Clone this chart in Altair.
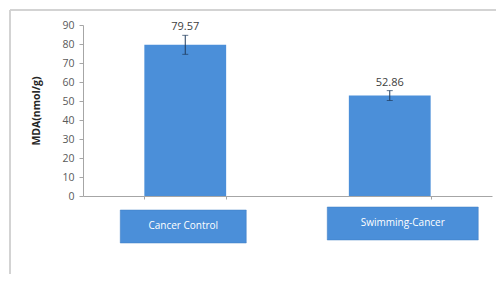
import altair as alt
import pandas as pd

groups = ["Cancer Control", "Swimming-Cancer"]
mda = [79.57, 52.86]
err = [5.0, 2.6]
labels = ["79.57", "52.86"]

df = pd.DataFrame({"group": groups, "mda": mda, "err": err, "label": labels})
df["lo"] = df["mda"] - df["err"]
df["hi"] = df["mda"] + df["err"]

BLUE = "#4b8fd9"
FONT = "Open Sans"

x_axis = alt.Axis(title=None, labels=False, ticks=True, tickBand="extent",
                  tickSize=3, domainColor="#a6a6a6", tickColor="#a6a6a6")
y_axis = alt.Axis(title="MDA(nmol/g)", values=list(range(0, 91, 10)),
                  labelOverlap=False,
                  grid=False, domainColor="#a6a6a6", tickColor="#a6a6a6",
                  tickSize=4, labelFontSize=10.5, labelColor="#595959",
                  labelFont=FONT, labelPadding=5,
                  titleFont=FONT, titleFontSize=10.5, titleFontWeight="bold",
                  titleColor="#262626", titlePadding=20)
y_scale = alt.Scale(domain=[0, 90])
x = alt.X("group:N", sort=groups,
          scale=alt.Scale(paddingInner=0.6, paddingOuter=0.3), axis=x_axis)

base = alt.Chart(df)

bars = base.mark_bar(color=BLUE).encode(
    x=x, y=alt.Y("mda:Q", scale=y_scale, axis=y_axis))
errs = base.mark_errorbar(color="#1f3b5c", ticks=alt.MarkConfig(size=6)).encode(
    x=x, y=alt.Y("lo:Q", scale=y_scale, axis=y_axis), y2="hi:Q")
vals = base.mark_text(dy=-8, fontSize=11, font=FONT, color="#404040").encode(
    x=x, y=alt.Y("hi:Q", scale=y_scale, axis=y_axis), text="label:N")

box1 = base.transform_filter(alt.datum.group == groups[0]).mark_bar(
    color=BLUE, width=126, xOffset=-2, stroke="#3f7cc0", strokeWidth=0.5).encode(
    x=x, y=alt.value(185), y2=alt.value(218))
box2 = base.transform_filter(alt.datum.group == groups[1]).mark_bar(
    color=BLUE, width=151, xOffset=13, stroke="#3f7cc0", strokeWidth=0.5).encode(
    x=x, y=alt.value(182), y2=alt.value(215))
boxtext1 = base.transform_filter(alt.datum.group == groups[0]).mark_text(
    color="white", fontSize=10, font=FONT, xOffset=-2).encode(
    x=x, y=alt.value(201), text="group:N")
boxtext2 = base.transform_filter(alt.datum.group == groups[1]).mark_text(
    color="white", fontSize=10, font=FONT, xOffset=13).encode(
    x=x, y=alt.value(198), text="group:N")

top_border = base.mark_rule(color="#d0d0d0", strokeWidth=1.5).encode(
    x=alt.value(-73), x2=alt.value(425), y=alt.value(-15))
left_border = base.mark_rule(color="#d0d0d0", strokeWidth=1.5).encode(
    x=alt.value(-73), y=alt.value(-15), y2=alt.value(270))

chart = alt.layer(top_border, left_border, bars, errs, vals, box1, box2, boxtext1, boxtext2).properties(
    width=409, height=171,
    autosize=alt.AutoSizeParams(type="none"),
    padding={"left": 75, "top": 17, "right": 4, "bottom": 78},
    background="white",
).configure_view(stroke=None).configure_axisY(labelOverlap=False)

chart.save("out.html", embed_options={"renderer": "svg", "actions": False})
